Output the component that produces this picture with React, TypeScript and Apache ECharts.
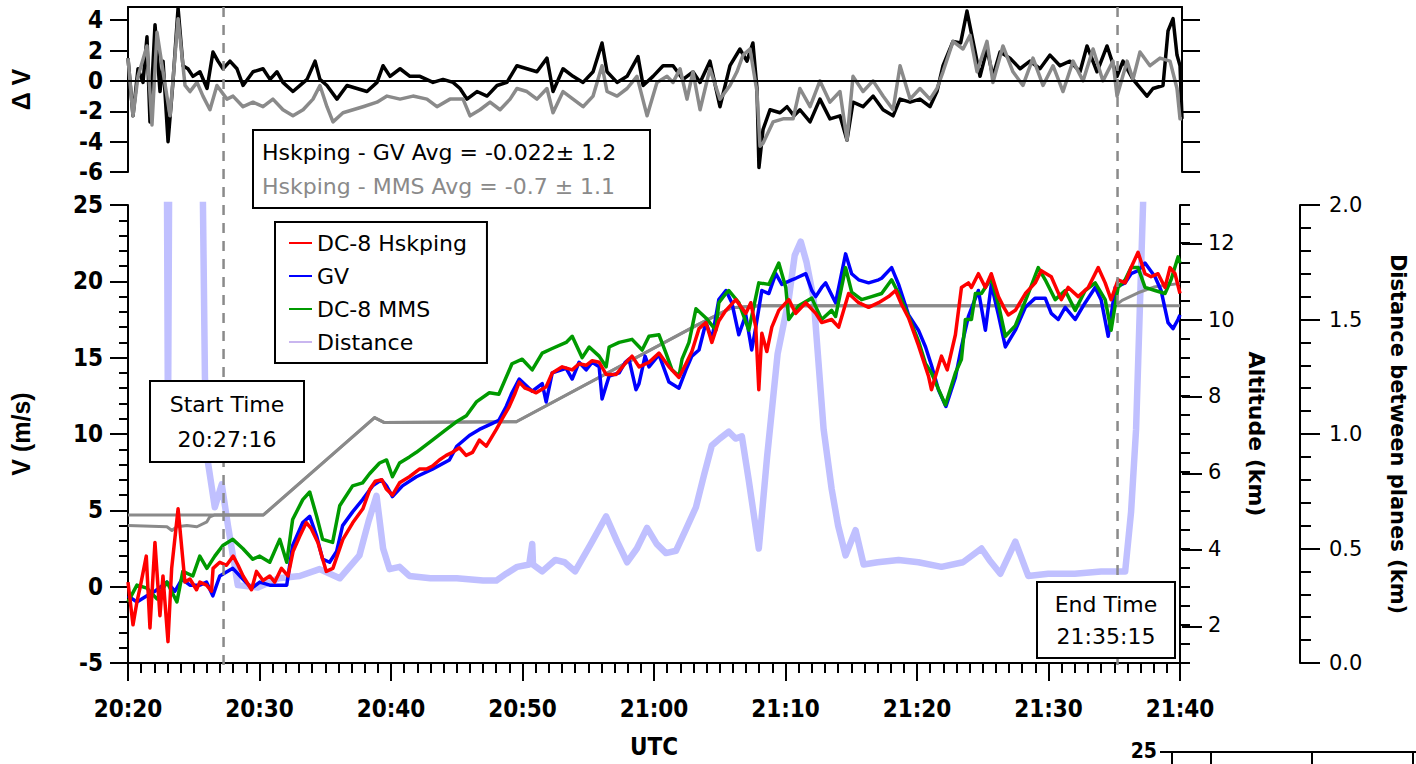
import React, { useEffect, useRef } from "react";
import * as echarts from "echarts";

// ---------- data (time in minutes after 20:20 UTC) ----------
const xTickLabels = ["20:20", "20:30", "20:40", "20:50", "21:00", "21:10", "21:20", "21:30", "21:40"];
const deltaTicks = [-6, -4, -2, 0, 2, 4];
const altitudeMajorTicks = [2, 4, 6, 8, 10, 12];
const startTimeMin = 7.267; // 20:27:16
const endTimeMin = 75.25; // 21:35:15
const startTimeLabel = "20:27:16";
const endTimeLabel = "21:35:15";
const statsGV = "Hskping - GV Avg = -0.022\u00B1 1.2";
const statsMMS = "Hskping - MMS Avg = -0.7 \u00B1 1.1";

const hskping: number[][] = [
  [0, 0.3], [0.38, -2.5], [0.68, -1.0], [0.91, -0.1], [1.39, 2.0], [1.67, -2.7], [2.05, 2.9], [2.43, -1.9], [2.66, 0.7], [3.04, -3.6],
  [3.32, 1.2], [3.81, 5.1], [4.33, 0.3], [4.71, 0.5], [5.21, -0.2], [5.46, 0.3], [5.97, 0.1], [6.35, -0.3], [6.47, 1.2], [6.98, 1.6],
  [7.49, 1.4], [8.0, 2.0], [8.37, 1.4], [8.75, 0.7], [9.39, -0.2], [9.77, 1.0], [10.27, 0.4], [10.78, 0.7], [11.16, 0.3], [11.67, 1.2],
  [12.17, 0.7], [12.55, 2.3], [13.06, 3.3], [13.56, 4.2], [13.94, 3.8], [14.44, 2.9], [15.08, 1.0], [15.58, 1.2], [16.34, 3.1], [17.1, 4.2],
  [17.86, 5.1], [18.4, 6.4], [18.8, 6.9], [19.3, 7.0], [19.64, 6.4], [20.11, 6.0], [20.65, 6.8], [21.4, 7.2], [22.16, 7.7], [22.7, 7.7],
  [23.15, 7.9], [23.68, 8.3], [24.2, 8.6], [24.67, 8.8], [25.2, 9.1], [25.71, 8.6], [26.2, 8.8], [26.72, 9.6], [27.25, 9.2], [28.01, 10.3],
  [28.46, 11.0], [28.99, 11.8], [29.4, 12.6], [29.75, 13.4], [30.2, 13.0], [30.51, 12.9], [31.04, 12.7], [31.8, 13.1], [32.26, 14.0], [33.02, 14.4],
  [33.78, 14.2], [34.3, 14.6], [34.84, 14.5], [35.3, 14.8], [35.83, 14.7], [36.36, 13.9], [37.12, 13.9], [37.6, 14.4], [37.88, 14.7], [38.33, 15.1],
  [38.86, 14.4], [39.62, 14.7], [40.38, 15.3], [40.8, 14.8], [41.14, 14.4], [41.9, 13.7], [42.43, 14.6], [42.88, 15.4], [43.42, 16.9], [43.95, 17.3],
  [44.4, 16.0], [44.93, 17.4], [45.47, 18.1], [46.22, 18.8], [46.98, 17.9], [47.36, 18.6], [47.74, 17.0], [47.97, 12.9], [48.2, 16.6], [48.58, 15.4],
  [48.96, 17.0], [49.49, 18.1], [50.25, 18.8], [50.78, 17.9], [51.54, 18.6], [52.3, 17.9], [52.75, 17.3], [53.51, 17.5], [54.04, 17.0], [54.8, 19.2],
  [55.56, 18.6], [56.32, 18.3], [57.08, 18.6], [57.84, 19.0], [58.37, 19.4], [58.82, 18.5], [59.36, 17.6], [60.11, 15.8], [60.87, 13.8], [61.1, 12.9],
  [61.86, 15.1], [62.3, 14.2], [62.92, 16.5], [63.38, 19.6], [63.91, 19.9], [64.14, 19.6], [64.67, 20.5], [65.2, 19.6], [65.65, 20.5], [66.19, 19.0],
  [66.6, 18.3], [66.94, 17.8], [67.48, 18.1], [68.24, 19.2], [68.99, 19.9], [69.45, 20.7], [70.21, 20.3], [70.97, 18.8], [71.5, 19.6], [72.26, 19.0],
  [73.02, 19.6], [73.78, 20.9], [74.31, 19.9], [74.76, 18.8], [75.29, 20.1], [75.83, 19.9], [76.28, 20.9], [76.81, 21.9], [77.34, 20.5], [77.8, 20.3],
  [78.33, 20.5], [78.86, 19.6], [79.24, 20.9], [79.62, 20.5], [80, 19.2],
];

const gv: number[][] = [
  [0, -0.6], [0.68, -1.0], [1.44, -0.6], [2.05, -0.3], [2.96, 0.3], [3.57, -0.3], [4.1, 0.5], [4.71, 0.1], [5.46, 0.1], [5.97, 0.3],
  [6.45, -0.6], [6.98, 0.7], [7.97, 1.2], [8.73, 0.5], [9.41, -0.1], [10.02, 0.3], [10.78, 0.1], [11.54, 0.1], [12.07, 0.1], [12.52, 2.7],
  [13.29, 4.2], [13.82, 4.6], [14.35, 3.3], [14.8, 1.8], [15.33, 1.6], [15.86, 2.3], [16.32, 4.0], [17.08, 4.9], [17.84, 5.7], [18.6, 6.6],
  [19.28, 7.0], [19.66, 6.6], [20.11, 5.9], [20.87, 6.6], [21.93, 7.2], [23.15, 7.7], [24.44, 8.3], [25.0, 9.2], [25.96, 9.9], [26.72, 10.3],
  [27.71, 10.7], [28.2, 10.9], [28.76, 11.8], [29.2, 12.7], [29.75, 13.6], [30.74, 12.8], [31.5, 13.3], [31.8, 12.1], [32.26, 14.0], [33.32, 14.3],
  [33.78, 13.6], [34.3, 14.7], [34.84, 14.2], [35.3, 14.7], [35.83, 14.4], [36.05, 12.3], [36.59, 13.8], [37.35, 14.0], [37.81, 14.7], [38.1, 14.9],
  [38.63, 12.9], [38.86, 13.3], [39.32, 15.1], [39.62, 14.4], [40.38, 15.2], [41.14, 13.4], [41.9, 13.0], [42.43, 14.2], [42.88, 15.1], [43.42, 15.5],
  [43.95, 17.3], [44.4, 16.2], [44.93, 18.8], [45.47, 19.4], [45.92, 18.6], [46.45, 16.5], [46.98, 17.8], [47.43, 15.5], [47.74, 17.0], [48.2, 19.4],
  [48.73, 19.2], [49.26, 20.5], [49.72, 19.8], [50.48, 20.1], [50.78, 20.2], [51.54, 20.5], [52.0, 19.4], [52.3, 19.0], [52.75, 19.6], [53.05, 19.9],
  [53.81, 18.6], [54.57, 21.8], [55.03, 20.5], [55.56, 20.1], [56.32, 19.9], [57.08, 20.1], [57.31, 20.2], [58.07, 20.9], [58.6, 19.8], [59.36, 17.8],
  [60.11, 16.8], [60.65, 15.7], [61.1, 14.5], [61.63, 12.9], [62.2, 11.8], [62.92, 13.7], [63.38, 15.7], [63.91, 17.7], [64.67, 19.4], [65.2, 16.8],
  [65.65, 19.8], [66.19, 17.8], [66.72, 15.7], [67.48, 16.8], [68.24, 18.3], [68.99, 18.9], [69.75, 18.9], [70.21, 17.9], [70.74, 17.5], [71.27, 18.3],
  [72.03, 17.5], [72.79, 18.6], [73.55, 19.6], [74.0, 18.8], [74.54, 16.4], [75.07, 19.6], [75.83, 19.9], [76.28, 20.5], [76.81, 20.7], [77.34, 21.2],
  [78.1, 20.3], [78.56, 19.4], [79.09, 17.3], [79.47, 16.9], [79.85, 17.5], [80, 17.8],
];

const mms: number[][] = [
  [0, -1.0], [0.68, 0.1], [1.44, -0.1], [2.2, -0.8], [2.96, 0.3], [3.72, -1.0], [4.17, 1.0], [4.93, 0.7], [5.46, 2.0], [6.0, 1.2],
  [6.6, 2.0], [7.21, 2.7], [7.97, 3.1], [8.73, 2.5], [9.49, 1.8], [10.02, 2.0], [10.78, 1.6], [11.54, 3.1], [12.07, 1.6], [12.52, 4.4],
  [13.29, 5.7], [13.82, 6.2], [14.35, 4.6], [14.8, 3.1], [15.56, 2.9], [16.1, 5.3], [17.08, 6.6], [17.84, 6.8], [18.37, 7.4], [19.13, 8.1],
  [19.66, 8.3], [20.11, 7.2], [20.65, 8.1], [21.4, 8.5], [21.93, 8.8], [23.15, 9.6], [24.21, 10.3], [24.97, 10.8], [25.73, 11.2], [26.49, 12.1],
  [27.48, 12.7], [28.2, 12.6], [29.2, 14.6], [29.98, 14.9], [30.74, 14.2], [31.5, 15.3], [32.26, 15.6], [33.32, 16.0], [33.78, 16.4], [34.54, 15.0],
  [35.07, 15.7], [35.83, 15.1], [36.36, 14.4], [36.59, 15.7], [37.35, 16.0], [38.33, 16.2], [39.1, 15.5], [39.62, 16.4], [40.38, 16.5], [40.91, 15.3],
  [41.37, 14.2], [41.9, 13.8], [42.13, 14.9], [42.66, 16.0], [43.19, 18.2], [43.95, 17.6], [44.7, 16.8], [44.93, 18.6], [45.47, 19.2], [45.69, 19.4],
  [46.45, 18.6], [47.21, 16.8], [47.43, 17.7], [47.97, 19.9], [48.73, 19.8], [49.49, 21.2], [50.02, 19.6], [50.25, 17.5], [51.0, 18.4], [52.0, 18.9],
  [52.75, 17.5], [53.51, 18.1], [53.81, 17.7], [54.57, 20.9], [55.03, 19.3], [55.79, 18.8], [56.55, 19.0], [57.31, 19.2], [58.07, 20.1], [58.6, 19.2],
  [59.36, 17.7], [60.11, 16.1], [60.65, 14.6], [61.1, 14.0], [61.4, 13.4], [62.16, 11.9], [62.92, 14.0], [63.38, 14.9], [63.68, 17.5], [64.14, 17.5],
  [64.44, 19.2], [64.9, 19.2], [65.65, 20.2], [66.19, 18.5], [66.72, 16.4], [67.48, 17.1], [68.46, 19.2], [69.22, 20.9], [69.75, 20.1], [70.51, 18.8],
  [71.27, 19.4], [72.03, 18.1], [72.79, 19.4], [73.55, 19.9], [74.31, 18.8], [74.76, 16.8], [75.29, 19.6], [75.83, 20.1], [76.28, 20.9], [76.81, 20.9],
  [77.34, 19.6], [78.1, 19.4], [78.86, 19.2], [79.32, 20.1], [79.85, 21.6], [80, 21.2],
];

const distance: number[][] = [
  [0, 3], [2.9, 3], [3.04, 1.0], [3.2, 3], [5.5, 3], [5.85, 1.25], [6.07, 0.88], [6.6, 0.68], [7.13, 0.78], [7.6, 0.6],
  [8.35, 0.34], [9.87, 0.33], [11.46, 0.37], [13.06, 0.38], [14.57, 0.41], [16.1, 0.37], [17.6, 0.47], [18.3, 0.62], [18.9, 0.73], [19.4, 0.5],
  [19.89, 0.41], [20.65, 0.42], [21.4, 0.38], [23.0, 0.37], [25.0, 0.37], [27.0, 0.36], [28.01, 0.36], [28.76, 0.39], [29.6, 0.42], [30.51, 0.43],
  [30.74, 0.52], [30.8, 0.43], [31.5, 0.4], [32.49, 0.45], [33.2, 0.44], [34.0, 0.4], [35.2, 0.52], [36.36, 0.64], [37.2, 0.53], [37.96, 0.44],
  [38.7, 0.5], [39.47, 0.59], [40.2, 0.52], [40.91, 0.48], [41.67, 0.49], [42.4, 0.58], [43.19, 0.68], [43.8, 0.82], [44.4, 0.95], [45.0, 0.98],
  [45.69, 1.01], [46.2, 0.98], [46.68, 0.99], [47.2, 0.8], [47.97, 0.5], [48.6, 0.9], [49.4, 1.35], [50.25, 1.59], [50.7, 1.78], [51.16, 1.84],
  [51.6, 1.75], [52.14, 1.59], [52.9, 1.02], [53.51, 0.76], [54.0, 0.6], [54.57, 0.47], [55.33, 0.58], [55.94, 0.43], [57, 0.44], [58.6, 0.45],
  [60.11, 0.44], [61.86, 0.42], [63.5, 0.44], [64.9, 0.5], [65.5, 0.45], [66.34, 0.39], [67.48, 0.53], [68.46, 0.38], [69.98, 0.39], [72, 0.39],
  [74, 0.4], [75.83, 0.4], [76.28, 0.66], [76.66, 1.02], [77.19, 2.0], [77.6, 3], [80, 3],
];

const altitudeDC8: number[][] = [
  [0, 4.88], [10.3, 4.88], [18.75, 7.43], [19.5, 7.3], [29.53, 7.32], [43.19, 9.84], [44.4, 10.05], [45.92, 10.31], [48, 10.36], [80, 10.36],
];

const altitudeGV: number[][] = [
  [0, 4.6], [2.96, 4.57], [3.34, 4.47], [3.72, 4.57], [4.48, 4.6], [5.24, 4.57], [6.0, 4.7], [6.22, 4.83], [6.6, 4.88], [10.3, 4.88],
  [18.75, 7.43], [19.5, 7.3], [29.53, 7.32], [43.19, 9.84], [44.4, 10.05], [45.92, 10.31], [48, 10.36], [75.07, 10.36], [75.6, 10.5], [76.81, 10.7],
  [78, 10.85], [79.85, 10.94], [80, 10.94],
];

const deltaGV: number[][] = [
  [0, 1.5], [0.38, -2.3], [0.76, 0.8], [1.14, -0.1], [1.44, 2.9], [1.67, -2.7], [2.05, 3.7], [2.43, -0.7], [2.66, 1.3], [3.04, -4.0],
  [3.42, 0], [3.8, 4.8], [4.17, 1.0], [4.55, 0.8], [4.93, 0.3], [5.46, 0.6], [6.0, -0.5], [6.45, 1.9], [6.83, 1.3], [7.21, 0.8],
  [7.74, 1.3], [8.27, 0.8], [8.73, -0.3], [9.49, 0.6], [10.25, 0.8], [10.78, 0.1], [11.31, 0.6], [11.76, -0.1], [12.52, -0.7], [13.06, -0.3],
  [13.59, 0.1], [14.2, 1.3], [14.57, 0.1], [15.1, -0.3], [15.86, -1.2], [16.62, -0.3], [17.38, -0.5], [18.14, -0.7], [18.9, -0.1], [19.36, 1.0],
  [19.89, 0.3], [20.65, 0.8], [21.4, 0.3], [22.16, 0.3], [23.15, -0.1], [23.91, 0.1], [24.67, -0.1], [25.2, -0.5], [25.73, -1.2], [26.49, -0.7],
  [27.25, -1.0], [28.01, -0.3], [28.76, -0.1], [29.52, 1.0], [30.28, 0.8], [31.04, 0.6], [31.8, 1.5], [32.26, -0.7], [33.02, 0.8], [33.78, 0.3],
  [34.54, -0.1], [35.3, 0.6], [35.98, 2.5], [36.36, 0.6], [37.12, -0.1], [37.88, 0.3], [38.71, 1.6], [39.1, -0.3], [39.85, 0.3], [40.61, 1.0],
  [41.37, 1.0], [42.13, 0.1], [42.88, 0.6], [43.42, -0.1], [44.17, 1.3], [44.93, -1.7], [45.69, 1.0], [46.45, 2.1], [46.98, 1.3], [47.43, 2.5],
  [47.74, -0.5], [47.89, -5.7], [48.2, -3.2], [48.73, -1.9], [49.49, -2.1], [50.02, -1.7], [50.55, -2.3], [51.0, -1.9], [51.77, -2.7], [52.52, -1.2],
  [53.28, -2.5], [54.04, -2.3], [54.57, -3.9], [55.03, -1.4], [55.79, -1.7], [56.55, -1.0], [57.31, -1.9], [58.07, -2.3], [58.6, -1.2], [59.36, -1.4],
  [60.11, -1.2], [60.87, -1.7], [61.4, -0.7], [61.86, 1.0], [62.62, 2.6], [63.2, 2.5], [63.68, 4.6], [64.14, 2.6], [64.67, 0.3], [65.2, 2.1],
  [65.65, 0.3], [66.19, 1.9], [66.94, 1.5], [67.71, 0.8], [68.46, 1.3], [69.22, 0.8], [69.98, 1.7], [70.74, 1.0], [71.5, 1.3], [72.26, 0.6],
  [72.79, 2.3], [73.55, 0.6], [74.31, 2.3], [75.07, 0.3], [75.52, 1.3], [76.28, 0.1], [77.34, -1.0], [77.8, -0.5], [78.56, -0.3], [78.94, 3.3],
  [79.32, 4.1], [79.62, 1.7], [79.85, 1.0], [80, -2.5],
];

const deltaMMS: number[][] = [
  [0, 1.5], [0.38, -2.3], [0.76, 0.3], [1.44, 2.3], [1.82, -2.9], [2.2, 3.2], [2.66, 0.6], [3.19, -2.3], [3.8, 4.1], [4.33, -0.3],
  [4.71, -0.7], [5.24, -0.1], [5.69, -1.0], [6.22, -1.9], [6.75, -0.3], [7.51, -1.2], [7.97, -1.0], [8.73, -1.7], [9.49, -1.4], [10.25, -1.7],
  [11.0, -1.2], [11.76, -1.9], [12.52, -2.3], [13.29, -1.9], [14.04, -1.2], [14.57, -0.3], [15.1, -1.7], [15.56, -2.7], [16.32, -2.1], [17.08, -1.9],
  [17.84, -1.7], [18.9, -1.4], [19.66, -1.0], [20.65, -1.2], [21.63, -1.0], [22.69, -1.2], [23.45, -1.7], [24.44, -1.2], [25.43, -1.2], [25.96, -2.3],
  [26.72, -1.9], [27.48, -1.4], [28.24, -1.9], [29.0, -1.2], [29.52, -0.5], [30.28, -0.7], [31.04, -1.2], [31.8, -0.5], [32.26, -2.1], [33.02, -0.7],
  [33.78, -1.2], [34.54, -1.7], [35.3, -1.0], [35.98, 1.0], [36.36, -0.7], [37.12, -1.0], [37.88, -0.5], [38.63, 0.3], [39.4, -2.3], [40.15, -0.1],
  [40.91, 0.3], [41.37, -0.1], [41.9, 0.8], [42.43, -1.2], [42.88, 0.6], [43.42, -1.9], [44.17, 0.8], [44.93, -1.2], [45.69, -0.3], [46.22, 0.6],
  [46.68, 1.7], [47.21, 2.1], [47.74, -0.7], [47.97, -4.3], [48.2, -4.1], [48.96, -2.7], [49.72, -2.5], [50.48, -2.5], [51.0, -0.5], [51.77, -1.7],
  [52.52, 0], [53.28, -1.4], [54.04, -0.7], [54.57, -3.9], [55.03, 0.3], [55.79, -0.7], [56.55, 0], [57.31, -1.0], [58.07, -1.9], [58.6, 1.0],
  [59.36, -1.2], [60.11, -0.5], [60.87, -1.2], [61.4, -0.5], [61.86, 0.6], [62.62, 2.6], [63.38, 2.1], [63.91, 3.0], [64.44, 0.6], [65.2, 2.6],
  [65.65, -0.1], [66.41, 2.3], [67.17, 0.6], [67.93, -0.3], [68.69, 1.5], [69.45, -0.3], [70.21, 1.0], [70.97, -0.7], [71.73, 1.3], [72.49, 0],
  [73.25, 2.1], [74.0, 0], [74.76, 1.3], [75.07, -1.0], [75.83, 1.3], [76.28, 0.1], [76.81, 1.9], [77.57, 1.0], [78.33, 1.5], [79.09, 1.3],
  [79.62, -0.5], [79.85, -2.5], [80, -2.5],
];

// ---------- styling ----------
const NARROW = "'Liberation Sans Narrow', 'Arial Narrow', 'DejaVu Sans Condensed', 'Liberation Sans', sans-serif";
const SANS = "'DejaVu Sans', Verdana, sans-serif";
const BOLD_SANS = "'Liberation Sans', Arial, sans-serif";
const BLACK = "#000";
const GREY = "#8a8a8a";

const tickLabel = { fontFamily: NARROW, fontWeight: "bold" as const, fontSize: 24, color: BLACK };
const rightLabel = { fontFamily: SANS, fontSize: 21, color: BLACK };
const axisLineStyle = { show: true, onZero: false, lineStyle: { color: BLACK, width: 2 } };

export default function App() {
  const ref = useRef<HTMLDivElement | null>(null);

  useEffect(() => {
    if (!ref.current) return;
    const chart = echarts.init(ref.current, null, { renderer: "svg" });

    const line = (name: string, data: number[][], color: string, width: number, xi: number, yi: number, extra: any = {}) => ({
      type: "line",
      name,
      data,
      xAxisIndex: xi,
      yAxisIndex: yi,
      showSymbol: false,
      symbol: "none",
      silent: true,
      color,
      lineStyle: { color, width, join: "round" },
      ...extra,
    });

    const option: any = {
      animation: false,
      backgroundColor: "#fff",
      textStyle: { fontFamily: SANS },
      grid: [
        { left: 128, top: 7, width: 1054, height: 165 },
        { left: 128, top: 205, width: 1054, height: 460 },
        // same rectangle as the main panel: carries only the long altitude ticks
        { left: 128, top: 205, width: 1054, height: 460 },
      ],
      legend: {
        left: 275,
        top: 222,
        orient: "vertical",
        z: 100,
        backgroundColor: "#fff",
        borderColor: BLACK,
        borderWidth: 2,
        padding: [9, 20, 9, 14],
        itemGap: 9,
        itemWidth: 23,
        itemHeight: 2,
        icon: "rect",
        selectedMode: false,
        textStyle: { fontFamily: SANS, fontSize: 22, lineHeight: 24, color: BLACK },
        data: [
          { name: "DC-8 Hskping" },
          { name: "GV" },
          { name: "DC-8 MMS" },
          { name: "Distance", itemStyle: { color: "#c9b6ef" } },
        ],
      },
      xAxis: [
        {
          gridIndex: 0, type: "value", min: 0, max: 80, position: "top",
          axisLine: axisLineStyle, axisTick: { show: false }, axisLabel: { show: false }, splitLine: { show: false },
        },
        {
          gridIndex: 1, type: "value", min: 0, max: 80, interval: 10, position: "bottom",
          axisLine: axisLineStyle,
          axisTick: { show: true, length: 18, lineStyle: { color: BLACK, width: 2 } },
          minorTick: { show: true, splitNumber: 10, length: 10, lineStyle: { color: BLACK, width: 2 } },
          axisLabel: { ...tickLabel, margin: 34, formatter: (v: number) => xTickLabels[Math.round(v / 10)] ?? "" },
          splitLine: { show: false }, minorSplitLine: { show: false },
          name: "UTC", nameLocation: "middle", nameGap: 72,
          nameTextStyle: { fontFamily: NARROW, fontWeight: "bold", fontSize: 24, color: BLACK },
        },
        {
          gridIndex: 2, type: "value", min: 0, max: 80, show: false,
        },
      ],
      yAxis: [
        {
          gridIndex: 0, type: "value", min: -6, max: 4.867, interval: 2, position: "left",
          axisLine: axisLineStyle,
          axisTick: { show: true, length: 18, customValues: deltaTicks, lineStyle: { color: BLACK, width: 2 } },
          axisLabel: { ...tickLabel, margin: 25, customValues: deltaTicks, formatter: (v: number) => (Number.isInteger(v) ? String(v) : "") },
          splitLine: { show: false },
          name: "\u0394 V", nameLocation: "middle", nameRotate: 90, nameGap: 95,
          nameTextStyle: { fontFamily: BOLD_SANS, fontWeight: "bold", fontSize: 25, color: BLACK },
        },
        {
          gridIndex: 0, type: "value", min: -6, max: 4.867, interval: 2, position: "right",
          axisLine: axisLineStyle,
          axisTick: { show: true, length: 18, customValues: deltaTicks, lineStyle: { color: BLACK, width: 2 } },
          axisLabel: { show: false }, splitLine: { show: false },
        },
        {
          gridIndex: 1, type: "value", min: -5, max: 25, interval: 5, position: "left",
          axisLine: axisLineStyle,
          axisTick: { show: true, length: 18, lineStyle: { color: BLACK, width: 2 } },
          minorTick: { show: true, splitNumber: 5, length: 9, lineStyle: { color: BLACK, width: 2 } },
          axisLabel: { ...tickLabel, margin: 25 },
          splitLine: { show: false }, minorSplitLine: { show: false },
          name: "V (m/s)", nameLocation: "middle", nameRotate: 90, nameGap: 95,
          nameTextStyle: { fontFamily: BOLD_SANS, fontWeight: "bold", fontSize: 25, color: BLACK },
        },
        {
          gridIndex: 1, type: "value", min: 1, max: 13, interval: 0.5, position: "right",
          axisLine: axisLineStyle,
          axisTick: { show: true, length: 10, lineStyle: { color: BLACK, width: 2 } },
          axisLabel: { ...rightLabel, margin: 28, formatter: (v: number) => (altitudeMajorTicks.includes(v) ? String(v) : "") },
          splitLine: { show: false },
          name: "Altitude (km)", nameLocation: "middle", nameRotate: -90, nameGap: 50,
          nameTextStyle: { fontFamily: SANS, fontWeight: "bold", fontSize: 22, color: BLACK },
        },
        {
          gridIndex: 2, type: "value", min: 1, max: 13, position: "right",
          axisLine: { show: false, onZero: false },
          axisTick: { show: true, length: 20, customValues: altitudeMajorTicks, lineStyle: { color: BLACK, width: 2 } },
          axisLabel: { show: false }, splitLine: { show: false },
        },
        {
          gridIndex: 1, type: "value", min: 0, max: 2, interval: 0.5, position: "right", offset: 120,
          axisLine: axisLineStyle,
          axisTick: { show: true, length: 20, lineStyle: { color: BLACK, width: 2 } },
          minorTick: { show: true, splitNumber: 5, length: 11, lineStyle: { color: BLACK, width: 2 } },
          axisLabel: { ...rightLabel, margin: 29, formatter: (v: number) => v.toFixed(1) },
          splitLine: { show: false }, minorSplitLine: { show: false },
          name: "Distance between planes (km)", nameLocation: "middle", nameRotate: -90, nameGap: 87,
          nameTextStyle: { fontFamily: SANS, fontWeight: "bold", fontSize: 21, color: BLACK },
        },
      ],
      series: [
        line("Hskping - GV", deltaGV, BLACK, 3.5, 0, 0, {
          markLine: {
            silent: true, symbol: ["none", "none"], label: { show: false },
            lineStyle: { color: BLACK, width: 2, type: "solid" }, data: [{ yAxis: 0 }],
          },
        }),
        line("Hskping - MMS", deltaMMS, GREY, 3.5, 0, 0),
        line("Distance", distance, "#c0c0ff", 6.5, 1, 5),
        line("Altitude DC-8", altitudeDC8, GREY, 3, 1, 3),
        line("Altitude GV", altitudeGV, GREY, 3, 1, 3),
        line("GV", gv, "#0000ff", 3.5, 1, 2),
        line("DC-8 MMS", mms, "#009a00", 3.5, 1, 2),
        line("DC-8 Hskping", hskping, "#ff0000", 3.5, 1, 2),
      ],
    };

    chart.setOption(option);

    const xs = chart.convertToPixel({ xAxisIndex: 1 }, startTimeMin) as number;
    const xe = chart.convertToPixel({ xAxisIndex: 1 }, endTimeMin) as number;
    const dash = { stroke: GREY, lineWidth: 2.5, lineDash: [10, 8] };
    const box = (x: number, y: number, w: number, h: number) => ({
      type: "rect", z: 100, shape: { x, y, width: w, height: h }, style: { fill: "#fff", stroke: BLACK, lineWidth: 2 },
    });
    const txt = (text: string, x: number, y: number, fill: string, font: string, align = "center") => ({
      type: "text", z: 101, style: { text, x, y, fill, font, textAlign: align, textVerticalAlign: "middle", verticalAlign: "middle" },
    });
    const annFont = `22px ${SANS}`;

    chart.setOption({
      graphic: {
        elements: [
          { type: "line", z: 50, shape: { x1: xs, y1: 7, x2: xs, y2: 665 }, style: dash },
          { type: "line", z: 50, shape: { x1: xe, y1: 7, x2: xe, y2: 665 }, style: dash },
          box(253, 130, 397, 78),
          txt(statsGV, 262, 152, BLACK, annFont, "left"),
          txt(statsMMS, 262, 186, GREY, annFont, "left"),
          box(150, 381, 154, 81),
          txt("Start Time", 227, 404, BLACK, annFont),
          txt(startTimeLabel, 227, 439, BLACK, annFont),
          box(1037, 582, 138, 76),
          txt("End Time", 1106, 604, BLACK, annFont),
          txt(endTimeLabel, 1106, 636, BLACK, annFont),
          // edge of the next panel, cropped at the bottom of the figure
          { type: "line", z: 50, shape: { x1: 1160, y1: 752, x2: 1416, y2: 752 }, style: { stroke: BLACK, lineWidth: 2 } },
          { type: "line", z: 50, shape: { x1: 1172, y1: 752, x2: 1172, y2: 764 }, style: { stroke: BLACK, lineWidth: 2 } },
          { type: "line", z: 50, shape: { x1: 1211, y1: 752, x2: 1211, y2: 764 }, style: { stroke: BLACK, lineWidth: 2 } },
          { type: "line", z: 50, shape: { x1: 1312, y1: 752, x2: 1312, y2: 764 }, style: { stroke: BLACK, lineWidth: 2 } },
          { type: "line", z: 50, shape: { x1: 1413, y1: 752, x2: 1413, y2: 764 }, style: { stroke: BLACK, lineWidth: 2 } },
          txt("25", 1157, 751, BLACK, `bold 21px ${NARROW}`, "right"),
        ],
      },
    });

    return () => chart.dispose();
  }, []);

  return (
    <div
      ref={ref}
      style={{ position: "fixed", left: 0, top: 0, width: 1416, height: 764, background: "#fff" }}
    />
  );
}
